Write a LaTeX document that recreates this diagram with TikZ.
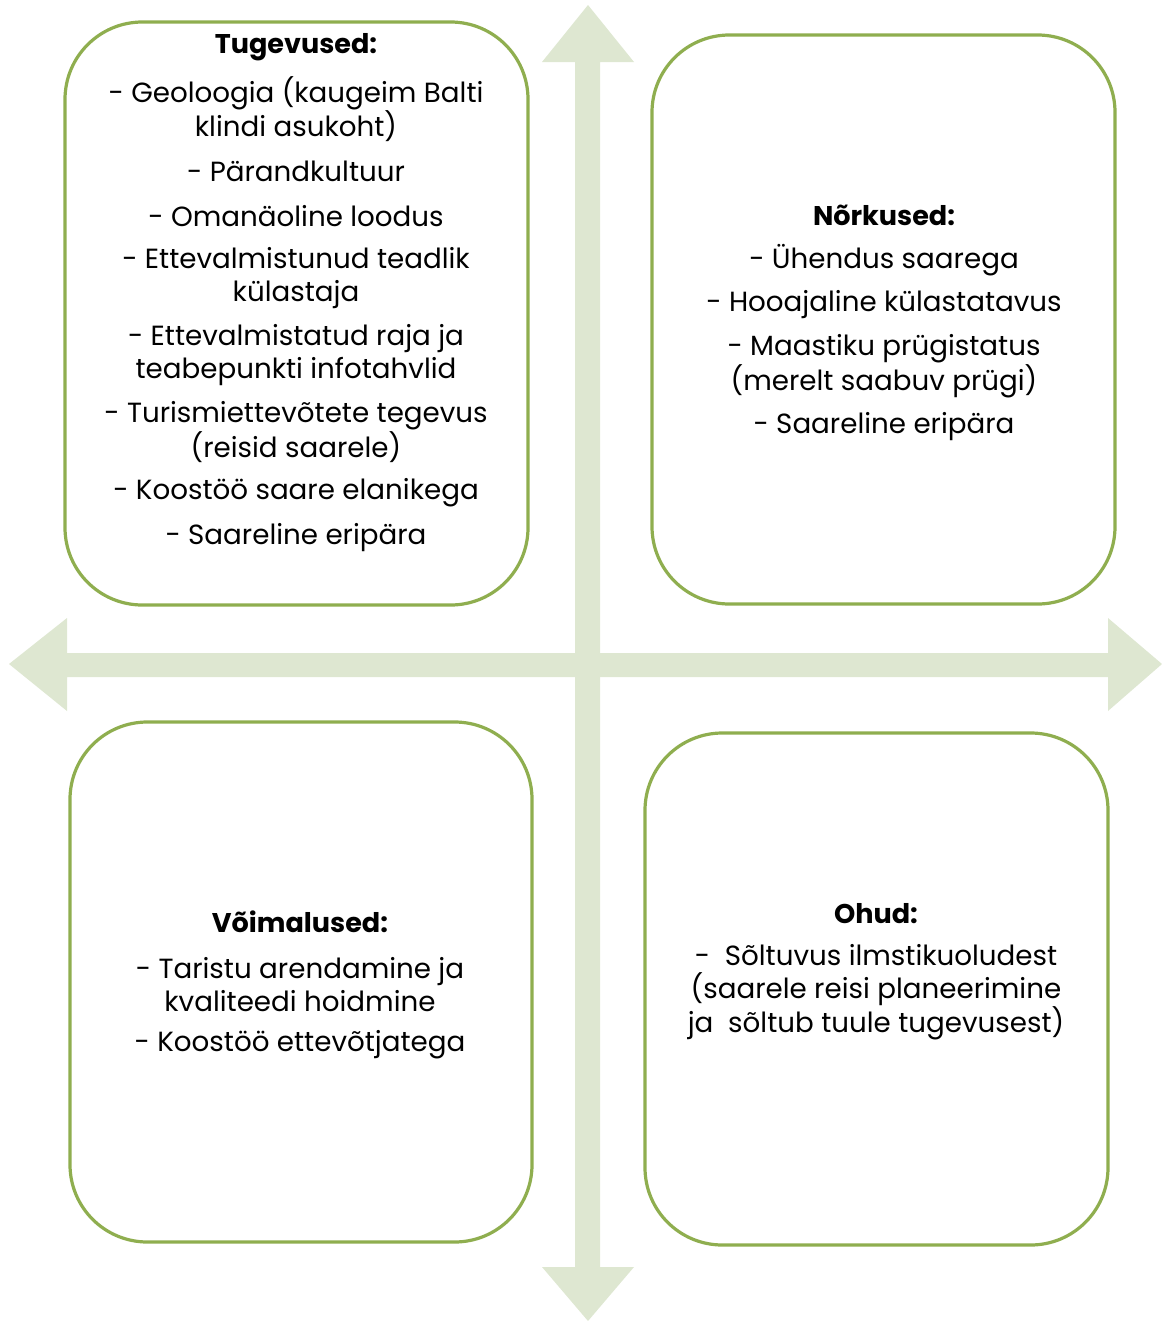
\documentclass[tikz,border=0pt]{standalone}
\usepackage{fontspec}
\setmainfont{Poppins}
\definecolor{boxgreen}{HTML}{8FAE4F}
\definecolor{arrowgreen}{HTML}{DEE7D1}
\begin{document}
\begin{tikzpicture}[x=0.75pt,y=-0.75pt,
  quad/.style={draw=boxgreen,line width=2.4pt,fill=white,rounded corners=58pt},
  txt/.style={font=\fontsize{20.8}{24.75}\selectfont,align=center,inner sep=0pt,anchor=center},
  hdr/.style={txt,font=\fontsize{20.3}{24.75}\selectfont\bfseries}]
\useasboundingbox (0,0) rectangle (1162,1321);
% cross arrows
\fill[arrowgreen] (575,62) -- (542,62) -- (588,5) -- (634,62) -- (600,62)
  -- (600,1267) -- (634,1267) -- (588,1321) -- (542,1267) -- (575,1267) -- cycle;
\fill[arrowgreen] (67,653) -- (67,618) -- (9,664) -- (67,711) -- (67,677)
  -- (1108,677) -- (1108,711) -- (1162,664) -- (1108,618) -- (1108,653) -- cycle;
% boxes
\draw[quad] (65,22) rectangle (528,605) coordinate (b1);
\draw[quad] (652,35) rectangle (1115,604) coordinate (b2);
\draw[quad] (70,722) rectangle (532,1242) coordinate (b3);
\draw[quad] (645,733) rectangle (1108,1245) coordinate (b4);
% box 1
\node[hdr] (t0) at (296,47) {Tugevused:};
\node[txt] (t1) at (296,109) {- Geoloogia (kaugeim Balti\\klindi asukoht)};
\node[txt] (t2) at (296,171) {- Pärandkultuur};
\node[txt] (t3) at (296,216) {- Omanäoline loodus};
\node[txt] (t4) at (296,278) {- Ettevalmistunud teadlik\\külastaja};
\node[txt] (t5) at (296,355) {- Ettevalmistatud raja ja\\teabepunkti infotahvlid};
\node[txt] (t6) at (296,432) {- Turismiettevõtete tegevus\\(reisid saarele)};
\node[txt] (t7) at (296,493) {- Koostöö saare elanikega};
\node[txt] (t8) at (296,538) {- Saareline eripära};
% box 2
\node[hdr] (n0) at (884,215) {Nõrkused:};
\node[txt] (n1) at (884,260) {- Ühendus saarega};
\node[txt] (n2) at (884,305) {- Hooajaline külastatavus};
\node[txt] (n3) at (884,366) {- Maastiku prügistatus\\(merelt saabuv prügi)};
\node[txt] (n4) at (884,427) {- Saareline eripära};
% box 3
\node[hdr] (v0) at (300,922) {Võimalused:};
\node[txt] (v1) at (300,985) {- Taristu arendamine ja\\kvaliteedi hoidmine};
\node[txt] (v2) at (300,1045) {- Koostöö ettevõtjatega};
% box 4
\node[hdr] (o0) at (876,914) {Ohud:};
\node[txt] (o1) at (876,992) {-\ \ Sõltuvus ilmstikuoludest\\(saarele reisi planeerimine\\ja\ \ sõltub tuule tugevusest)};
\end{tikzpicture}
\end{document}
